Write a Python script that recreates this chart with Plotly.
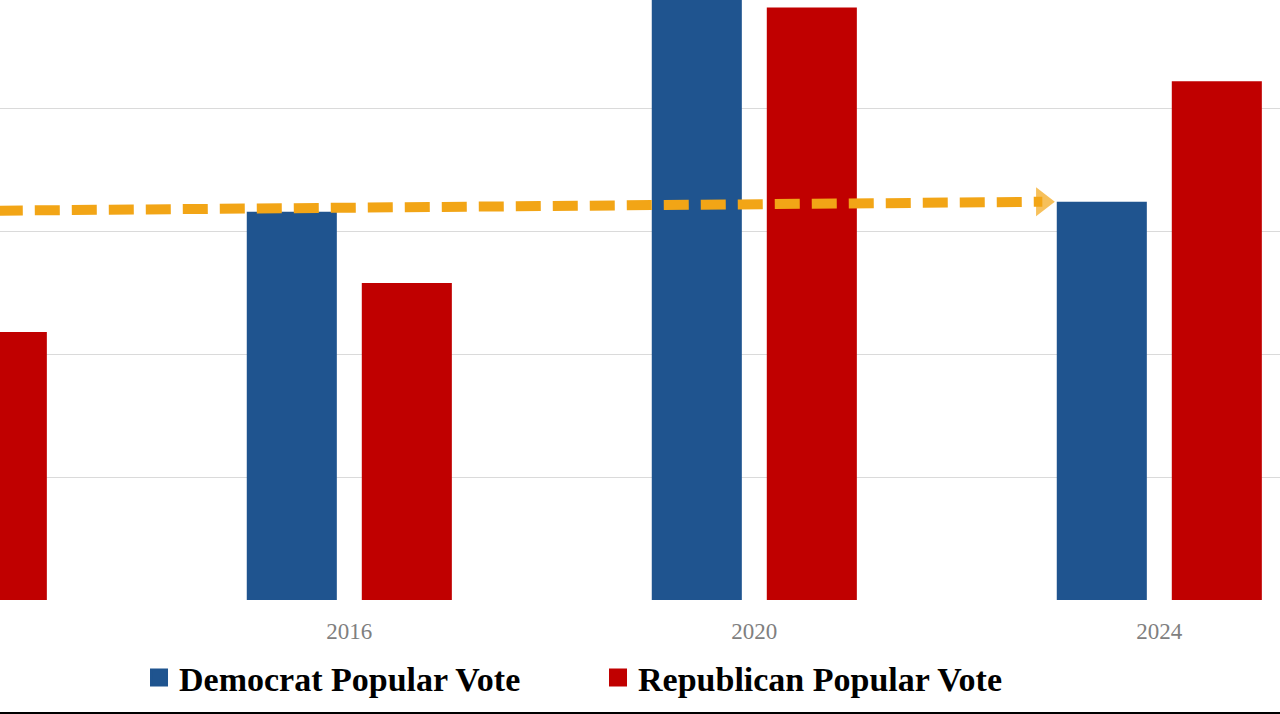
import plotly.graph_objects as go

# ---- data (millions of votes) ----
years = ["2012", "2016", "2020", "2024"]
dem_votes = [65.8, 65.8, 81.3, 66.2]
rep_votes = [60.9, 62.9, 74.1, 71.1]

series_names = ["Democrat Popular Vote", "Republican Popular Vote"]
dem_color = "#1F548F"
rep_color = "#C00000"
arrow_color = "#F2A516"

x_idx = list(range(len(years)))

# group geometry (in category units)
bargap = 0.432
bargroupgap = 0.217
slot = (1 - bargap) / 2
offset = slot / 2
half_bar = slot * (1 - bargroupgap) / 2

x_range = [0.1375, 3.298]
px_per_cat = 1280 / (x_range[1] - x_range[0])
head_size = 25
head_tip = head_size / 2 * 2 / 3 ** 0.5  # triangle tip distance from its centre (px)

fig = go.Figure()

fig.add_trace(go.Bar(x=x_idx, y=dem_votes, name=series_names[0],
                     marker=dict(color=dem_color, line=dict(width=0)),
                     showlegend=False))
fig.add_trace(go.Bar(x=x_idx, y=rep_votes, name=series_names[1],
                     marker=dict(color=rep_color, line=dict(width=0)),
                     showlegend=False))

# dashed arrow from the 2012 Democrat bar top to the 2024 Democrat bar top-left
arrow_x = [x_idx[0] - offset,
           x_idx[3] - offset - half_bar - head_tip / px_per_cat]
arrow_y = [dem_votes[0], dem_votes[3]]
fig.add_trace(go.Scatter(
    x=arrow_x, y=arrow_y, mode="lines+markers",
    line=dict(color=arrow_color, width=10, dash="25px,12px"),
    marker=dict(symbol="triangle-right", size=[0, head_size], color=arrow_color,
                line=dict(width=0)),
    showlegend=False, hoverinfo="skip", cliponaxis=False))

# legend proxies
for name, col in zip(series_names, [dem_color, rep_color]):
    fig.add_trace(go.Scatter(x=[None], y=[None], mode="markers", name=name,
                             marker=dict(symbol="square", size=16, color=col,
                                         line=dict(color=col, width=2))))

fig.update_layout(
    width=1280, height=714,
    margin=dict(l=0, r=0, t=0, b=114),
    paper_bgcolor="white", plot_bgcolor="white",
    barmode="group", bargap=bargap, bargroupgap=bargroupgap,
    font=dict(family="Liberation Serif"),
    showlegend=True,
    legend=dict(orientation="h", xanchor="left", x=0.1086,
                yanchor="middle", y=-0.13,
                font=dict(family="Liberation Serif", size=34, color="black",
                          weight="bold"),
                entrywidth=414, bgcolor="rgba(0,0,0,0)"),
    xaxis=dict(range=x_range, tickvals=x_idx, ticktext=years,
               showgrid=False, zeroline=False, showline=False,
               ticks="", ticklabelstandoff=15,
               tickfont=dict(family="Liberation Serif", size=23,
                             color="#7F7F7F")),
    yaxis=dict(range=[50, 74.41], dtick=5, tick0=50, showticklabels=False,
               showgrid=True, gridcolor="#DADADA", gridwidth=1.2,
               zeroline=False, showline=False, ticks=""),
    shapes=[dict(type="line", xref="paper", yref="paper", x0=0, x1=1,
                 y0=-0.1883, y1=-0.1883, line=dict(color="black", width=2))],
)

fig.write_html("out.html",
               config={"displayModeBar": False},
               post_script="document.body.style.margin='0';"
                           "document.body.style.overflow='hidden';")
